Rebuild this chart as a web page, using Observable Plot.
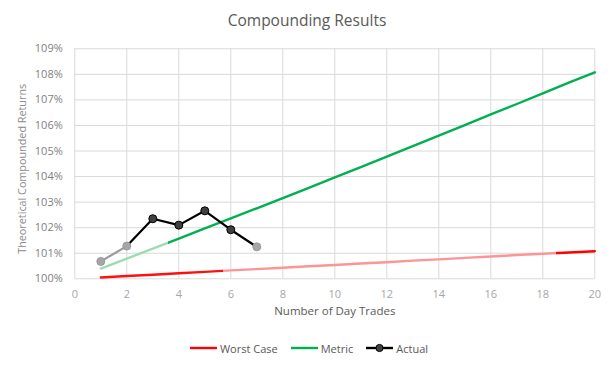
<!DOCTYPE html>
<html>
<head>
<meta charset="utf-8">
<script src="https://cdn.jsdelivr.net/npm/d3@7"></script>
<script src="https://cdn.jsdelivr.net/npm/@observablehq/plot@0.6"></script>
<style>
  html, body { margin: 0; padding: 0; background: #fff; }
  body { width: 614px; height: 367px; overflow: hidden; font-family: "Open Sans", "DejaVu Sans", sans-serif; }
  #title { height: 35px; line-height: 40px; text-align: center; font-size: 15.5px; color: #595959; }
  #legend { display: flex; justify-content: center; align-items: center; height: 46px; font-size: 11px; color: #595959; padding-left: 4px; }
  .item { display: flex; align-items: center; margin: 0 6.5px; }
  .item svg { margin-right: 3px; }
</style>
</head>
<body>
<div id="title">Compounding Results</div>
<div id="chart"></div>
<div id="legend"></div>
<script>
// ---- data ----
const trades = [1,2,3,4,5,6,7,8,9,10,11,12,13,14,15,16,17,18,19,20];
const metric = [100.40,100.79,101.18,101.57,101.97,102.36,102.76,103.16,103.56,103.97,104.37,104.78,105.19,105.60,106.01,106.43,106.84,107.26,107.68,108.08];
const worstCase = [100.05,100.11,100.16,100.22,100.27,100.33,100.38,100.43,100.49,100.54,100.60,100.65,100.71,100.76,100.82,100.87,100.93,100.98,101.03,101.08];
const actualTrades = [1,2,3,4,5,6,7];
const actual = [100.68,101.28,102.35,102.10,102.66,101.92,101.25];
const yTicks = [100,101,102,103,104,105,106,107,108,109];
const xTicks = [0,2,4,6,8,10,12,14,16,18,20];
const seriesNames = ["Worst Case", "Metric", "Actual"];

const metricData = trades.map((t, i) => ({t, v: metric[i]}));
const worstData = trades.map((t, i) => ({t, v: worstCase[i]}));
const actualData = actualTrades.map((t, i) => ({t, v: actual[i]}));
const fadedPoints = new Set([1, 2, 7]);

const grid = "#d9d9d9";
const plot = Plot.plot({
  width: 614,
  height: 290,
  marginLeft: 74.3,
  marginRight: 19.7,
  marginTop: 13.3,
  marginBottom: 46.7,
  style: {fontFamily: "'Open Sans', sans-serif", background: "#fff"},
  x: {domain: [0, 20]},
  y: {domain: [100, 109]},
  marks: [
    Plot.gridY(yTicks, {stroke: grid, strokeOpacity: 1, strokeWidth: 1}),
    Plot.gridX(xTicks, {stroke: grid, strokeOpacity: 1, strokeWidth: 1}),
    Plot.axisY(yTicks, {tickSize: 0, tickPadding: 12, tickFormat: d => d + "%", fontSize: 11, fill: "#7f7f7f", label: null}),
    Plot.axisX(xTicks, {tickSize: 0, tickPadding: 11, fontSize: 11, fill: "#a6a6a6", label: null}),
    Plot.text(["Number of Day Trades"], {frameAnchor: "bottom", dy: 36, fontSize: 11.5, fill: "#595959"}),
    Plot.text(["Theoretical Compounded Returns"], {frameAnchor: "bottom-left", textAnchor: "start", lineAnchor: "middle", dx: -52, dy: -25, rotate: -90, fontSize: 10.8, fill: "#8c8c8c"}),
    Plot.line(worstData, {x: "t", y: "v", stroke: "url(#gWorst)", strokeWidth: 2.4}),
    Plot.line(metricData, {x: "t", y: "v", stroke: "url(#gMetric)", strokeWidth: 2.4}),
    Plot.line(actualData.slice(0, 2), {x: "t", y: "v", stroke: "#9a9a9a", strokeWidth: 2.2}),
    Plot.line(actualData.slice(1), {x: "t", y: "v", stroke: "#000", strokeWidth: 2.2}),
    Plot.dot(actualData.filter(d => fadedPoints.has(d.t)), {x: "t", y: "v", r: 4, fill: "#a6a6a6", stroke: "#9a9a9a", strokeWidth: 1}),
    Plot.dot(actualData.filter(d => !fadedPoints.has(d.t)), {x: "t", y: "v", r: 4, fill: "#404040", stroke: "#000", strokeWidth: 1})
  ]
});

// gradients for the faded portions of the lines
const defs = d3.select(plot).insert("defs", ":first-child");
function grad(id, stops) {
  const g = defs.append("linearGradient").attr("id", id).attr("x1", 0).attr("x2", 1).attr("y1", 0).attr("y2", 0);
  stops.forEach(([o, c]) => g.append("stop").attr("offset", o).attr("stop-color", c));
}
const fx = t => (t - 1) / 19;
grad("gMetric", [[0, "#9ddcb3"], [fx(3.6), "#9ddcb3"], [fx(3.6), "#00b050"], [1, "#00b050"]]);
grad("gWorst", [[0, "#ff1010"], [fx(5.7), "#ff1010"], [fx(5.7), "#ff9494"], [fx(18.5), "#ff9494"], [fx(18.5), "#ff0000"], [1, "#ff0000"]]);

document.getElementById("chart").appendChild(plot);

// legend
const legendColors = ["#ff0000", "#00b050", "#000"];
const legend = document.getElementById("legend");
seriesNames.forEach((name, i) => {
  const item = document.createElement("div");
  item.className = "item";
  const marker = i === 2 ? '<circle cx="13.5" cy="5" r="3.6" fill="#404040" stroke="#000"/>' : "";
  item.innerHTML = `<svg width="27" height="10"><line x1="0" x2="27" y1="5" y2="5" stroke="${legendColors[i]}" stroke-width="2.4"/>${marker}</svg><span>${name}</span>`;
  legend.appendChild(item);
});
</script>
</body>
</html>
